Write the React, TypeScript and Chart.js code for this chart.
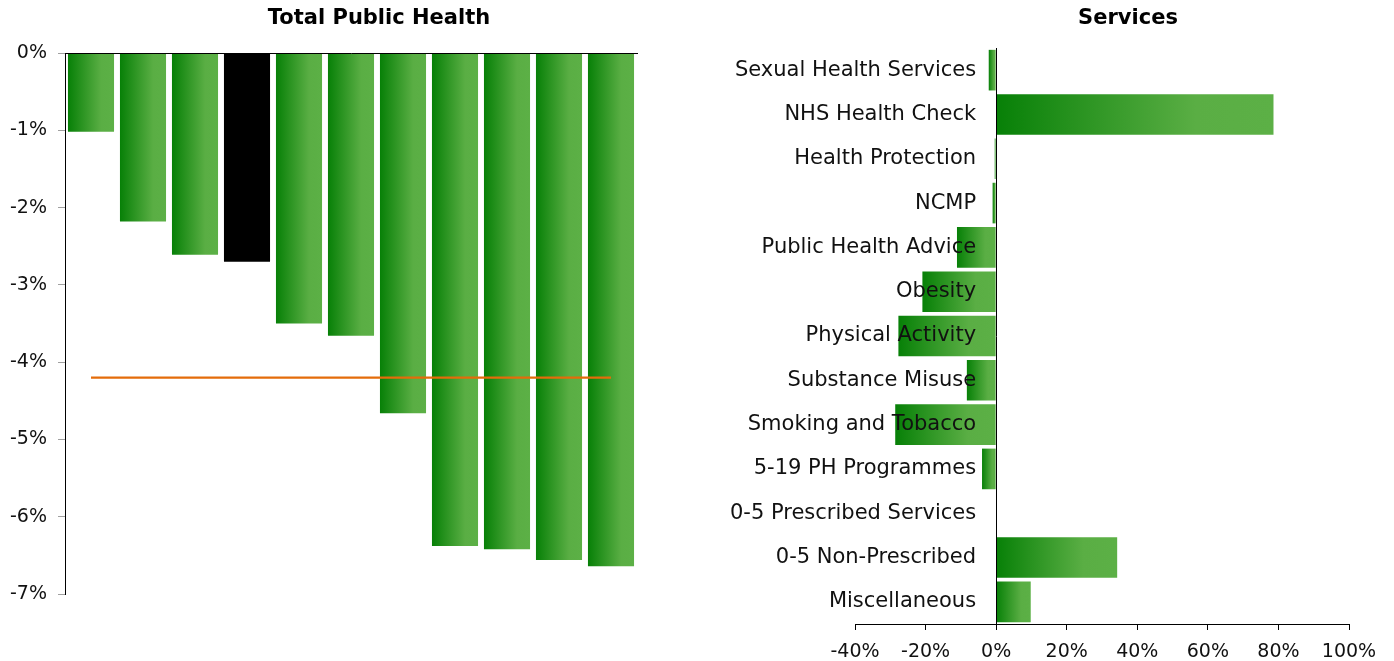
import React, { useEffect, useRef } from "react";
import { Chart, registerables } from "chart.js";

Chart.register(...registerables);

const FONT = "'DejaVu Sans', Verdana, sans-serif";

// ---------- Left chart: Total Public Health ----------
const totalCategories = ["1", "2", "3", "4", "5", "6", "7", "8", "9", "10", "11"];
const totalValues = [-1.02, -2.18, -2.61, -2.7, -3.5, -3.66, -4.66, -6.38, -6.42, -6.56, -6.64];
const averageLine = [-4.2, -4.2, -4.2, -4.2, -4.2, -4.2, -4.2, -4.2, -4.2, -4.2, -4.2];
const highlightIndex = 3;
const totalTicks = [0, -1, -2, -3, -4, -5, -6, -7];

// ---------- Right chart: Services ----------
const serviceCategories = [
  "Sexual Health Services",
  "NHS Health Check",
  "Health Protection",
  "NCMP",
  "Public Health Advice",
  "Obesity",
  "Physical Activity",
  "Substance Misuse",
  "Smoking and Tobacco",
  "5-19 PH Programmes",
  "0-5 Prescribed Services",
  "0-5 Non-Prescribed",
  "Miscellaneous",
];
const serviceValues = [-2.1, 78.6, -0.4, -1.0, -11.1, -20.9, -27.7, -8.3, -28.6, -4.0, 0.2, 34.3, 9.8];
const serviceTicks = [-40, -20, 0, 20, 40, 60, 80, 100];

const LEFT_BAR_PCT = 0.886;
const RIGHT_BAR_PCT = 0.917;
const TEXT_COLOR = "#111111";

function greenGradient(chart: any, left: number, right: number) {
  const g = chart.ctx.createLinearGradient(left, 0, right, 0);
  g.addColorStop(0, "#078007");
  g.addColorStop(0.72, "#5aae44");
  g.addColorStop(1, "#5cb046");
  return g;
}

const titlePlugin = {
  id: "posTitle",
  afterDraw(chart: any, _args: any, opts: any) {
    const { ctx } = chart;
    ctx.save();
    ctx.font = `bold 21px ${FONT}`;
    ctx.fillStyle = "#000";
    ctx.textAlign = "center";
    ctx.textBaseline = "middle";
    ctx.fillText(opts.text, opts.x, opts.y);
    ctx.restore();
  },
};

function TotalChart() {
  const ref = useRef<HTMLCanvasElement>(null);
  useEffect(() => {
    const chart = new Chart(ref.current as HTMLCanvasElement, {
      type: "bar",
      data: {
        labels: totalCategories,
        datasets: [
          {
            type: "line",
            data: averageLine,
            borderColor: "#e46c0a",
            borderWidth: 2.2,
            pointRadius: 0,
            fill: false,
            order: 0,
          } as any,
          {
            type: "bar",
            data: totalValues,
            categoryPercentage: 1,
            barPercentage: LEFT_BAR_PCT,
            borderWidth: 0,
            order: 1,
            backgroundColor: (c: any) => {
              if (c.type !== "data") return "#5aae44";
              if (c.dataIndex === highlightIndex) return "#000000";
              const chart = c.chart;
              const xs = chart.scales.x;
              if (!xs || !chart.chartArea) return "#5aae44";
              const centre = xs.getPixelForValue(c.dataIndex);
              const w = (xs.width / totalCategories.length) * LEFT_BAR_PCT;
              return greenGradient(chart, centre - w / 2, centre + w / 2);
            },
          } as any,
        ],
      },
      options: {
        responsive: false,
        animation: false,
        layout: { padding: { left: 0, top: 53, right: 60, bottom: 67 } },
        plugins: {
          legend: { display: false },
          tooltip: { enabled: false },
          posTitle: { text: "Total Public Health", x: 379, y: 19 },
        } as any,
        scales: {
          x: {
            type: "category",
            position: "top",
            offset: true,
            ticks: { display: false },
            grid: { display: false },
            border: { display: true, color: "#000", width: 1, z: 1 } as any,
            afterFit: (s: any) => {
              s.height = 0;
              s.paddingLeft = 0;
              s.paddingRight = 0;
            },
          },
          y: {
            type: "linear",
            position: "left",
            min: -7,
            max: 0,
            afterBuildTicks: (s: any) => {
              s.ticks = totalTicks.map((v) => ({ value: v }));
            },
            ticks: {
              callback: (v: any) => `${v}%`,
              font: { family: FONT, size: 19 },
              color: TEXT_COLOR,
              padding: 11,
            },
            grid: { display: true, drawOnChartArea: false, color: "#a0a0a0", tickLength: 7 },
            border: { display: true, color: "#000", width: 1 },
            afterFit: (s: any) => {
              s.width = 65;
              s.paddingTop = 0;
              s.paddingBottom = 0;
            },
          },
        },
      } as any,
      plugins: [titlePlugin],
    });
    return () => chart.destroy();
  }, []);
  return (
    <canvas
      ref={ref}
      width={697}
      height={661}
      style={{ position: "absolute", left: 0, top: 0, width: 697, height: 661 }}
    />
  );
}

function ServicesChart() {
  const ref = useRef<HTMLCanvasElement>(null);
  useEffect(() => {
    const chart = new Chart(ref.current as HTMLCanvasElement, {
      type: "bar",
      data: {
        labels: serviceCategories,
        datasets: [
          {
            data: serviceValues,
            categoryPercentage: 1,
            barPercentage: RIGHT_BAR_PCT,
            borderWidth: 0,
            backgroundColor: (c: any) => {
              if (c.type !== "data") return "#5aae44";
              const chart = c.chart;
              const xs = chart.scales.x;
              if (!xs || !chart.chartArea) return "#5aae44";
              const v = serviceValues[c.dataIndex];
              const l = xs.getPixelForValue(Math.min(0, v));
              let r = xs.getPixelForValue(Math.max(0, v));
              if (r - l < 1) r = l + 1;
              return greenGradient(chart, l, r);
            },
          } as any,
        ],
      },
      options: {
        indexAxis: "y",
        responsive: false,
        animation: false,
        layout: { padding: { left: 158, top: 48, right: 45, bottom: 0 } },
        plugins: {
          legend: { display: false },
          tooltip: { enabled: false },
          posTitle: { text: "Services", x: 431, y: 19 },
        } as any,
        scales: {
          x: {
            type: "linear",
            position: "bottom",
            min: -40,
            max: 100,
            afterBuildTicks: (s: any) => {
              s.ticks = serviceTicks.map((v) => ({ value: v }));
            },
            ticks: {
              callback: (v: any) => `${v}%`,
              font: { family: FONT, size: 19 },
              color: TEXT_COLOR,
              padding: 11,
              maxRotation: 0,
              autoSkip: false,
            },
            grid: { display: true, drawOnChartArea: false, color: "#000", tickLength: 6 },
            border: { display: true, color: "#000", width: 1 },
            afterFit: (s: any) => {
              s.height = 37;
              s.paddingLeft = 0;
              s.paddingRight = 0;
            },
          },
          y: {
            type: "category",
            axis: "y",
            position: { x: 0 },
            offset: true,
            ticks: {
              // trailing spaces keep the right-aligned labels ~20px left of the zero line
              callback: (_v: any, i: number) => `${serviceCategories[i]}   `,
              font: { family: FONT, size: 21 },
              color: TEXT_COLOR,
              autoSkip: false,
              z: 1,
            },
            grid: { display: false, drawTicks: false },
            border: { display: true, color: "#000", width: 1, z: 1 },
            afterFit: (s: any) => {
              s.paddingTop = 0;
              s.paddingBottom = 0;
            },
          },
        },
      } as any,
      plugins: [titlePlugin],
    });
    return () => chart.destroy();
  }, []);
  return (
    <canvas
      ref={ref}
      width={697}
      height={661}
      style={{ position: "absolute", left: 697, top: 0, width: 697, height: 661 }}
    />
  );
}

export default function App() {
  return (
    <div
      style={{
        position: "fixed",
        left: 0,
        top: 0,
        width: 1394,
        height: 661,
        background: "#fff",
        overflow: "hidden",
      }}
    >
      <TotalChart />
      <ServicesChart />
    </div>
  );
}
